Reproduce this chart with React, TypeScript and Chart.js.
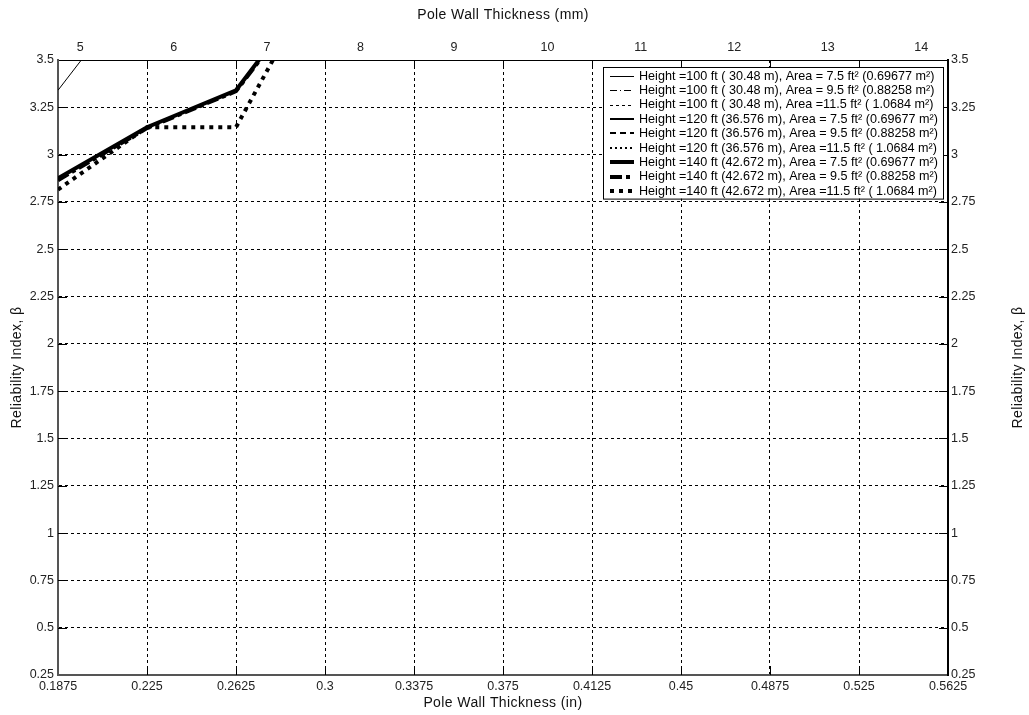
import React, { useEffect, useRef } from 'react';
import { Chart, registerables } from 'chart.js';

Chart.register(...registerables);

// ---------- data ----------
const X_TICKS = [0.1875, 0.225, 0.2625, 0.3, 0.3375, 0.375, 0.4125, 0.45, 0.4875, 0.525, 0.5625];
const X_TICK_LABELS = ['0.1875', '0.225', '0.2625', '0.3', '0.3375', '0.375', '0.4125', '0.45', '0.4875', '0.525', '0.5625'];
const MM_TICKS = [5, 6, 7, 8, 9, 10, 11, 12, 13, 14];
const MM_TICK_LABELS = ['5', '6', '7', '8', '9', '10', '11', '12', '13', '14'];
const Y_TICKS = [0.25, 0.5, 0.75, 1, 1.25, 1.5, 1.75, 2, 2.25, 2.5, 2.75, 3, 3.25, 3.5];
const Y_TICK_LABELS = ['0.25', '0.5', '0.75', '1', '1.25', '1.5', '1.75', '2', '2.25', '2.5', '2.75', '3', '3.25', '3.5'];

const X_MIN = 0.1875;
const X_MAX = 0.5625;
const MM_PER_IN = 25.4;
const Y_MIN = 0.25;
const Y_MAX = 3.5;

const THICKNESS_IN = [0.1875, 0.225, 0.2625, 0.3];
const H100_A75 = [3.34, 3.95, 4.5, 5.0];
const H100_A95 = [3.7, 4.3, 4.9, 5.4];
const H100_A115 = [3.9, 4.5, 5.1, 5.6];
const H120_A75 = [3.6, 4.1, 4.6, 5.1];
const H120_A95 = [3.75, 4.25, 4.75, 5.25];
const H120_A115 = [3.85, 4.35, 4.85, 5.35];
const H140_A75 = [2.875, 3.145, 3.34, 3.96];
const H140_A95 = [2.865, 3.14, 3.335, 3.95];
const H140_A115 = [2.815, 3.145, 3.145, 4.0];

const SERIES_LABELS = [
  'Height =100 ft ( 30.48 m), Area = 7.5 ft\u00b2 (0.69677 m\u00b2)',
  'Height =100 ft ( 30.48 m), Area = 9.5 ft\u00b2 (0.88258 m\u00b2)',
  'Height =100 ft ( 30.48 m), Area =11.5 ft\u00b2 ( 1.0684 m\u00b2)',
  'Height =120 ft (36.576 m), Area = 7.5 ft\u00b2 (0.69677 m\u00b2)',
  'Height =120 ft (36.576 m), Area = 9.5 ft\u00b2 (0.88258 m\u00b2)',
  'Height =120 ft (36.576 m), Area =11.5 ft\u00b2 ( 1.0684 m\u00b2)',
  'Height =140 ft (42.672 m), Area = 7.5 ft\u00b2 (0.69677 m\u00b2)',
  'Height =140 ft (42.672 m), Area = 9.5 ft\u00b2 (0.88258 m\u00b2)',
  'Height =140 ft (42.672 m), Area =11.5 ft\u00b2 ( 1.0684 m\u00b2)',
];
const SERIES_VALUES = [H100_A75, H100_A95, H100_A115, H120_A75, H120_A95, H120_A115, H140_A75, H140_A95, H140_A115];

const TITLE_TOP = 'Pole Wall Thickness (mm)';
const TITLE_BOTTOM = 'Pole Wall Thickness (in)';
const TITLE_Y = 'Reliability Index, \u03b2';

// ---------- styles ----------
const FONT = '"Liberation Sans", Arial, Helvetica, sans-serif';
const LINE_STYLES = [
  { w: 1, dash: [] as number[] },
  { w: 1, dash: [7, 3, 1, 3] },
  { w: 1, dash: [3, 3] },
  { w: 2, dash: [] as number[] },
  { w: 2, dash: [6, 4] },
  { w: 2, dash: [2, 3] },
  { w: 4, dash: [] as number[] },
  { w: 4, dash: [12, 4, 4, 4] },
  { w: 4, dash: [4, 5] },
];

const TICK_LEN = 9;

const inwardTicks = {
  id: 'inwardTicks',
  afterDatasetsDraw(chart: any) {
    const { ctx, chartArea, scales } = chart;
    ctx.save();
    ctx.setLineDash([]);
    ctx.lineWidth = 1;
    ctx.strokeStyle = '#000';
    ctx.beginPath();
    X_TICKS.forEach((v, i) => {
      if (i === 0 || i === X_TICKS.length - 1) return;
      const x = Math.round(scales.x.getPixelForValue(v)) + 0.5;
      ctx.moveTo(x, chartArea.bottom);
      ctx.lineTo(x, chartArea.bottom - TICK_LEN);
      ctx.moveTo(x, chartArea.top);
      ctx.lineTo(x, chartArea.top + TICK_LEN);
    });
    Y_TICKS.forEach((v, i) => {
      if (i === 0 || i === Y_TICKS.length - 1) return;
      const y = Math.round(scales.y.getPixelForValue(v)) + 0.5;
      ctx.moveTo(chartArea.left, y);
      ctx.lineTo(chartArea.left + TICK_LEN, y);
      ctx.moveTo(chartArea.right, y);
      ctx.lineTo(chartArea.right - TICK_LEN, y);
    });
    ctx.stroke();
    ctx.restore();
  },
};

const boxLegend = {
  id: 'boxLegend',
  afterDatasetsDraw(chart: any) {
    const { ctx, chartArea } = chart;
    ctx.save();
    ctx.font = `12.6px ${FONT}`;
    const rowH = 14.4;
    const sampleW = 24;
    const padL = 7;
    const gap = 5;
    const padR = 5;
    const maxW = Math.max(...SERIES_LABELS.map((t) => ctx.measureText(t).width));
    const right = chartArea.right - 5;
    const top = chartArea.top + 7;
    const w = padL + sampleW + gap + maxW + padR;
    const h = rowH * SERIES_LABELS.length + 2;
    const left = Math.round(right - w);
    ctx.fillStyle = '#fff';
    ctx.fillRect(left, top, right - left, h);
    ctx.strokeStyle = '#000';
    ctx.lineWidth = 1;
    ctx.setLineDash([]);
    ctx.strokeRect(left + 0.5, top + 0.5, right - left, h);
    SERIES_LABELS.forEach((label, i) => {
      const y = top + 1.5 + rowH * (i + 0.5);
      const st = LINE_STYLES[i];
      ctx.beginPath();
      ctx.setLineDash(st.dash);
      ctx.lineWidth = st.w;
      ctx.strokeStyle = '#000';
      const yy = st.w % 2 === 1 ? Math.round(y) + 0.5 : Math.round(y);
      ctx.moveTo(left + padL, yy);
      ctx.lineTo(left + padL + sampleW, yy);
      ctx.stroke();
      ctx.setLineDash([]);
      ctx.fillStyle = '#000';
      ctx.textBaseline = 'middle';
      ctx.textAlign = 'left';
      ctx.fillText(label, left + padL + sampleW + gap, y + 0.5);
    });
    ctx.restore();
  },
};

const axisTitles = {
  id: 'axisTitles',
  afterDraw(chart: any) {
    const { ctx, chartArea } = chart;
    const cx = (chartArea.left + chartArea.right) / 2;
    const cy = (chartArea.top + chartArea.bottom) / 2;
    ctx.save();
    ctx.font = `14px ${FONT}`;
    try {
      (ctx as any).letterSpacing = '0.4px';
    } catch (e) {
      /* ignore */
    }
    ctx.fillStyle = '#111';
    ctx.textAlign = 'center';
    ctx.textBaseline = 'middle';
    ctx.fillText(TITLE_TOP, cx, 15.5);
    ctx.fillText(TITLE_BOTTOM, cx, 703.5);
    [17.5, 1018.5].forEach((x) => {
      ctx.save();
      ctx.translate(x, cy);
      ctx.rotate(-Math.PI / 2);
      ctx.fillText(TITLE_Y, 0, 0);
      ctx.restore();
    });
    ctx.restore();
  },
};

const edgeHidden = (n: number) => (c: any) =>
  c.index === 0 || c.index === n - 1 ? 'rgba(0,0,0,0)' : '#000';

export default function App() {
  const ref = useRef<HTMLCanvasElement | null>(null);

  useEffect(() => {
    if (!ref.current) return;
    const datasets = SERIES_VALUES.map((vals, i) => ({
      label: SERIES_LABELS[i],
      data: vals.map((v, j) => ({ x: THICKNESS_IN[j], y: v })),
      borderColor: '#000',
      backgroundColor: '#000',
      borderWidth: LINE_STYLES[i].w,
      borderDash: LINE_STYLES[i].dash,
      pointRadius: 0,
      tension: 0,
      fill: false,
      xAxisID: 'x',
      yAxisID: 'y',
    }));

    const tickFont = { family: FONT, size: 12.5 };

    const chart = new Chart(ref.current, {
      type: 'line',
      data: { datasets },
      options: {
        responsive: false,
        animation: false,
        devicePixelRatio: 1,
        layout: { padding: 0 },
        plugins: { legend: { display: false }, tooltip: { enabled: false } },
        scales: {
          x: {
            type: 'linear',
            position: 'bottom',
            min: X_MIN,
            max: X_MAX,
            afterBuildTicks: (s: any) => {
              s.ticks = X_TICKS.map((v) => ({ value: v }));
            },
            afterFit: (s: any) => {
              s.height = 40;
            },
            ticks: {
              autoSkip: false,
              maxRotation: 0,
              padding: 4,
              color: '#222',
              font: tickFont,
              callback: (_v: any, i: number) => X_TICK_LABELS[i],
            },
            grid: { color: edgeHidden(X_TICKS.length), lineWidth: 1, drawTicks: false },
            border: { color: '#555', width: 2, dash: [3, 3] },
          },
          x2: {
            type: 'linear',
            position: 'top',
            min: X_MIN * MM_PER_IN,
            max: X_MAX * MM_PER_IN,
            afterBuildTicks: (s: any) => {
              s.ticks = MM_TICKS.map((v) => ({ value: v }));
            },
            afterFit: (s: any) => {
              s.height = 60;
            },
            ticks: {
              autoSkip: false,
              maxRotation: 0,
              padding: 5,
              color: '#222',
              font: tickFont,
              callback: (_v: any, i: number) => MM_TICK_LABELS[i],
            },
            grid: { display: false, drawTicks: false },
            border: { color: '#000', width: 1 },
          },
          y: {
            type: 'linear',
            position: 'left',
            min: Y_MIN,
            max: Y_MAX,
            afterBuildTicks: (s: any) => {
              s.ticks = Y_TICKS.map((v) => ({ value: v }));
            },
            afterFit: (s: any) => {
              s.width = 58;
            },
            ticks: {
              autoSkip: false,
              padding: 4,
              color: '#222',
              font: tickFont,
              callback: (_v: any, i: number) => Y_TICK_LABELS[i],
            },
            grid: { color: edgeHidden(Y_TICKS.length), lineWidth: 1, drawTicks: false },
            border: { color: '#555', width: 2, dash: [3, 3] },
          },
          y2: {
            type: 'linear',
            position: 'right',
            min: Y_MIN,
            max: Y_MAX,
            afterBuildTicks: (s: any) => {
              s.ticks = Y_TICKS.map((v) => ({ value: v }));
            },
            afterFit: (s: any) => {
              s.width = 81;
            },
            ticks: {
              autoSkip: false,
              padding: 3,
              color: '#222',
              font: tickFont,
              callback: (_v: any, i: number) => Y_TICK_LABELS[i],
            },
            grid: { display: false, drawTicks: false },
            border: { color: '#000', width: 2 },
          },
        },
      },
      plugins: [inwardTicks, boxLegend, axisTitles],
    } as any);

    return () => chart.destroy();
  }, []);

  return (
    <div style={{ position: 'absolute', left: 0, top: 0, width: 1029, height: 715, background: '#fff' }}>
      <canvas ref={ref} width={1029} height={715} style={{ display: 'block', width: 1029, height: 715 }} />
    </div>
  );
}
